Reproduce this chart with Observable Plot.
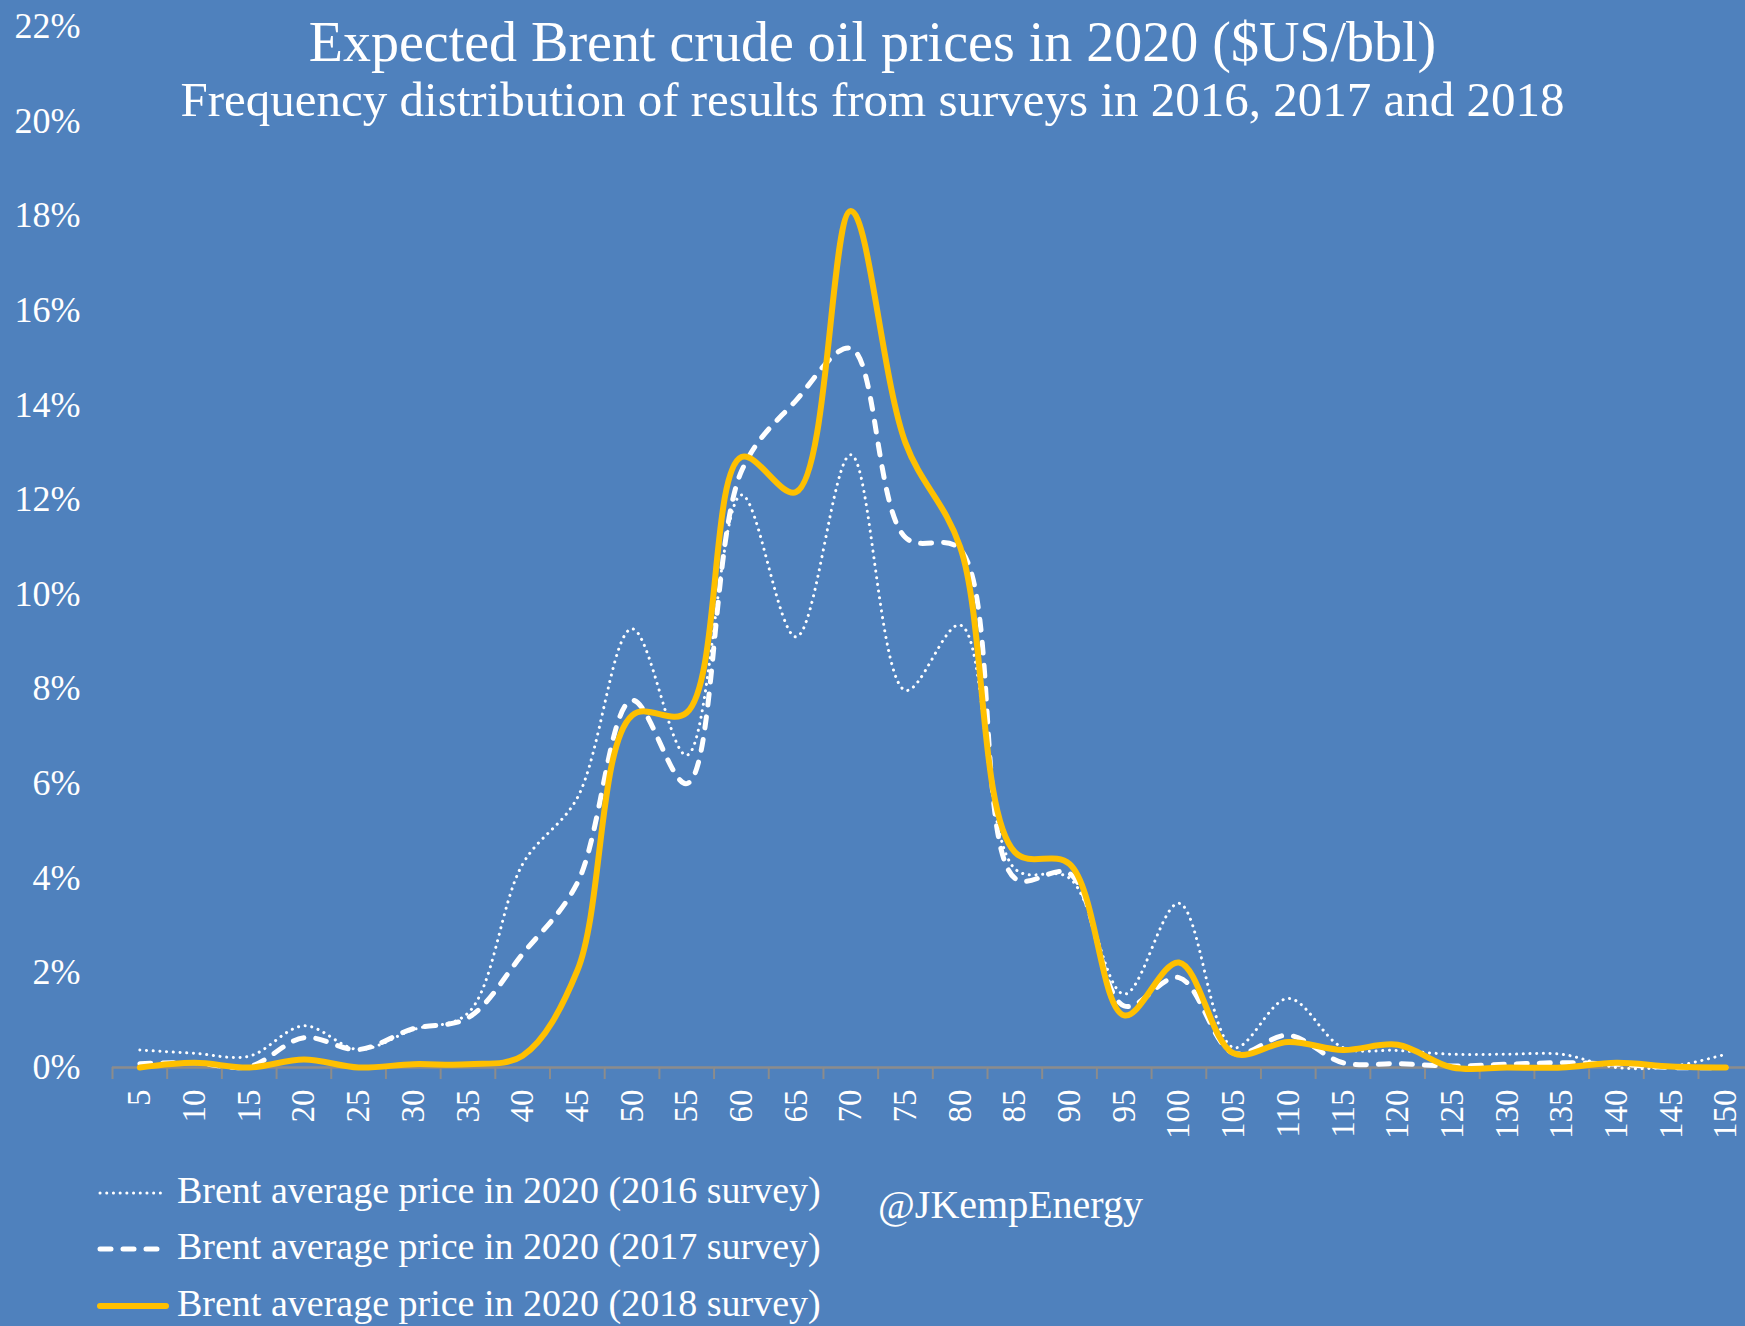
<!DOCTYPE html>
<html>
<head>
<meta charset="utf-8">
<script src="https://cdn.jsdelivr.net/npm/d3@7"></script>
<script src="https://cdn.jsdelivr.net/npm/@observablehq/plot@0.6"></script>
<style>
  html, body { margin: 0; padding: 0; background: #4F81BD; }
  #wrap { position: relative; width: 1745px; height: 1326px; background: #4F81BD; overflow: hidden;
          font-family: "Liberation Serif", serif; color: #fff; }
  #chart { position: absolute; left: 0; top: 0; }
  .t { position: absolute; white-space: nowrap; }
  #title { left: 0; width: 1745px; text-align: center; top: 14px; font-size: 56px; line-height: 56px; }
  #subtitle { left: 0; width: 1745px; text-align: center; top: 75px; font-size: 49px; line-height: 49px; }
  .leg { font-size: 38px; line-height: 38px; left: 177px; }
  .sw { position: absolute; left: 96px; }
  #handle { left: 878px; top: 1185px; font-size: 40px; line-height: 40px; }
</style>
</head>
<body>
<div id="wrap">
  <div id="chart"></div>
  <div class="t" id="title">Expected Brent crude oil prices in 2020 ($US/bbl)</div>
  <div class="t" id="subtitle">Frequency distribution of results from surveys in 2016, 2017 and 2018</div>
  <div id="legend"></div>
  <div class="t" id="handle">@JKempEnergy</div>
</div>
<script>
// Price buckets ($US/bbl)
const prices = [5,10,15,20,25,30,35,40,45,50,55,60,65,70,75,80,85,90,95,100,105,110,115,120,125,130,135,140,145,150];
// Share of responses (%) by survey year
const survey2016 = [0.37,0.30,0.24,0.88,0.38,0.80,1.15,4.30,5.70,9.27,6.60,12.10,9.10,12.95,7.97,9.35,4.20,4.00,1.55,3.47,0.42,1.46,0.42,0.36,0.28,0.28,0.28,0.00,0.02,0.28];
const survey2017 = [0.08,0.10,0.02,0.63,0.38,0.82,1.05,2.40,3.90,7.76,6.00,12.60,14.10,15.20,11.20,10.95,4.00,4.10,1.30,1.90,0.30,0.68,0.10,0.08,0.03,0.07,0.10,0.07,0.00,0.00];
const survey2018 = [0.00,0.10,0.00,0.17,0.00,0.07,0.07,0.25,2.05,7.44,7.50,12.90,12.16,18.10,13.20,11.00,4.55,4.30,1.10,2.22,0.30,0.54,0.37,0.48,0.00,0.00,0.00,0.10,0.02,0.00];
const yTicks = [0,2,4,6,8,10,12,14,16,18,20,22];
const seriesNames = [
  "Brent average price in 2020 (2016 survey)",
  "Brent average price in 2020 (2017 survey)",
  "Brent average price in 2020 (2018 survey)"
];

const toRows = (vals) => prices.map((p, i) => ({price: p, pct: vals[i]}));
const d16 = toRows(survey2016), d17 = toRows(survey2017), d18 = toRows(survey2018);
const bounds = prices.map(p => p - 2.5);

const styles = {
  s2016: {stroke: "white", strokeWidth: 3, strokeDasharray: "0.1 6.6", strokeLinecap: "round"},
  s2017: {stroke: "white", strokeWidth: 5, strokeDasharray: "11 12", strokeLinecap: "round"},
  s2018: {stroke: "#FFC000", strokeWidth: 6, strokeLinecap: "round"}
};

const chart = Plot.plot({
  width: 1745,
  height: 1150,
  marginTop: 26,
  marginBottom: 83,
  marginLeft: 112,
  marginRight: 0,
  style: {background: "transparent", color: "white", fontFamily: "Liberation Serif", fontSize: "36px", overflow: "visible"},
  x: {type: "linear", domain: [2.5, 151.8]},
  y: {domain: [0, 22]},
  marks: [
    Plot.axisY(yTicks, {tickSize: 0, tickPadding: 32, tickFormat: d => d + "%", fontSize: 36, label: null}),
    Plot.ruleY([0], {stroke: "#8C8C8C", strokeWidth: 2.5}),
    Plot.axisX(bounds, {tickSize: 12, tickFormat: () => "", stroke: "#8C8C8C", strokeWidth: 2, label: null}),
    Plot.axisX(prices, {tickSize: 0, tickPadding: 22, tickRotate: -90, fontSize: 33, label: null}),
    Plot.line(d16, {x: "price", y: "pct", curve: "catmull-rom", ...styles.s2016}),
    Plot.line(d17, {x: "price", y: "pct", curve: "catmull-rom", ...styles.s2017}),
    Plot.line(d18, {x: "price", y: "pct", curve: "catmull-rom", ...styles.s2018})
  ]
});
document.getElementById("chart").appendChild(chart);

// Legend
const legend = document.getElementById("legend");
const tops = [1171, 1227, 1284];
const keys = ["s2016", "s2017", "s2018"];
keys.forEach((k, i) => {
  const row = document.createElement("div");
  row.className = "t leg";
  row.style.top = tops[i] + "px";
  row.textContent = seriesNames[i];
  legend.appendChild(row);
  const s = styles[k];
  const svg = d3.create("svg").attr("class", "sw").attr("width", 74).attr("height", 12)
    .style("top", (tops[i] + 16) + "px");
  svg.append("line").attr("x1", 4).attr("x2", 70).attr("y1", 6).attr("y2", 6)
    .attr("stroke", s.stroke).attr("stroke-width", s.strokeWidth)
    .attr("stroke-dasharray", s.strokeDasharray || null)
    .attr("stroke-linecap", s.strokeLinecap);
  legend.appendChild(svg.node());
});
</script>
</body>
</html>
